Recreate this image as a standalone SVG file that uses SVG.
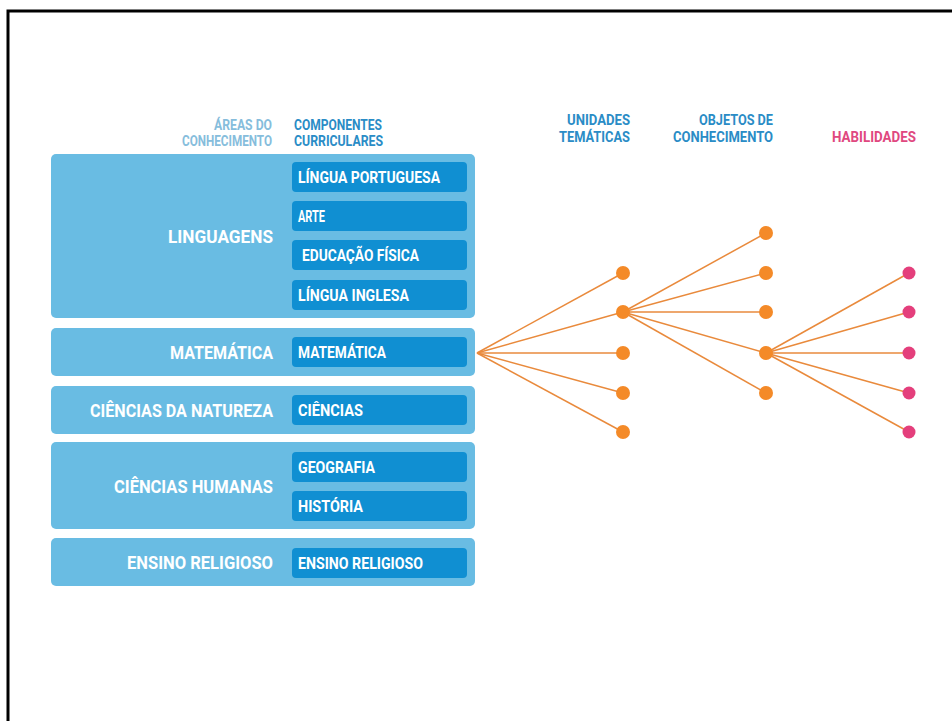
<svg xmlns="http://www.w3.org/2000/svg" width="952" height="721" viewBox="0 0 952 721">
<style>
.outer{fill:#69bce3}
.inner{fill:#108fd2}
.t{font-family:Roboto,"Liberation Sans",sans-serif;font-weight:bold;fill:#fff}
.big{font-size:19px}
.small{font-size:16px}
.hd{font-family:Roboto,"Liberation Sans",sans-serif;font-weight:bold;font-size:14px}
.lt{fill:#86bddc}
.dk{fill:#2a8cc6}
.pk{fill:#e04880}
.ln{stroke:#e98a3c;stroke-width:1.5;fill:none}
.od{fill:#f48a28}
.pd{fill:#e43f7c}
</style>
<rect x="0" y="0" width="952" height="721" fill="#fff"/>
<path d="M8 721 V11 H952" fill="none" stroke="#000" stroke-width="3"/>

<g id="headers">
<text class="hd lt" x="272" y="130" text-anchor="end" textLength="58" lengthAdjust="spacingAndGlyphs">ÁREAS DO</text>
<text class="hd lt" x="272" y="146" text-anchor="end" textLength="90" lengthAdjust="spacingAndGlyphs">CONHECIMENTO</text>
<text class="hd dk" x="294" y="130" textLength="88" lengthAdjust="spacingAndGlyphs">COMPONENTES</text>
<text class="hd dk" x="294" y="146" textLength="89" lengthAdjust="spacingAndGlyphs">CURRICULARES</text>
<text class="hd dk" x="630" y="125" text-anchor="end" textLength="63" lengthAdjust="spacingAndGlyphs">UNIDADES</text>
<text class="hd dk" x="630" y="142" text-anchor="end" textLength="71" lengthAdjust="spacingAndGlyphs">TEMÁTICAS</text>
<text class="hd dk" x="773" y="125" text-anchor="end" textLength="74" lengthAdjust="spacingAndGlyphs">OBJETOS DE</text>
<text class="hd dk" x="773" y="142" text-anchor="end" textLength="100" lengthAdjust="spacingAndGlyphs">CONHECIMENTO</text>
<text class="hd pk" x="916" y="142" text-anchor="end" textLength="84" lengthAdjust="spacingAndGlyphs">HABILIDADES</text>
</g>

<g id="linguagens">
<rect class="outer" x="51" y="154" width="424" height="164" rx="5"/>
<text class="t big" x="273" y="243" text-anchor="end" textLength="105" lengthAdjust="spacingAndGlyphs">LINGUAGENS</text>
</g>
<g id="lingua-portuguesa">
<rect class="inner" x="292" y="162" width="175" height="30" rx="4"/>
<text class="t small" x="298" y="183" textLength="142" lengthAdjust="spacingAndGlyphs">LÍNGUA PORTUGUESA</text>
</g>
<g id="arte">
<rect class="inner" x="292" y="201" width="175" height="30" rx="4"/>
<text class="t small" x="298" y="222" textLength="27" lengthAdjust="spacingAndGlyphs">ARTE</text>
</g>
<g id="educacao-fisica">
<rect class="inner" x="292" y="240" width="175" height="30" rx="4"/>
<text class="t small" x="302" y="261" textLength="117" lengthAdjust="spacingAndGlyphs">EDUCAÇÃO FÍSICA</text>
</g>
<g id="lingua-inglesa">
<rect class="inner" x="292" y="280" width="175" height="30" rx="4"/>
<text class="t small" x="298" y="301" textLength="111" lengthAdjust="spacingAndGlyphs">LÍNGUA INGLESA</text>
</g>

<g id="matematica-area">
<rect class="outer" x="51" y="328" width="424" height="48" rx="5"/>
<text class="t big" x="273" y="359" text-anchor="end" textLength="103" lengthAdjust="spacingAndGlyphs">MATEMÁTICA</text>
</g>
<g id="matematica">
<rect class="inner" x="292" y="337" width="175" height="30" rx="4"/>
<text class="t small" x="298" y="358" textLength="88" lengthAdjust="spacingAndGlyphs">MATEMÁTICA</text>
</g>

<g id="ciencias-natureza">
<rect class="outer" x="51" y="386" width="424" height="48" rx="5"/>
<text class="t" style="font-size:17.5px" x="273" y="417" text-anchor="end" textLength="183" lengthAdjust="spacingAndGlyphs">CIÊNCIAS DA NATUREZA</text>
</g>
<g id="ciencias">
<rect class="inner" x="292" y="395" width="175" height="30" rx="4"/>
<text class="t small" x="298" y="416" textLength="65" lengthAdjust="spacingAndGlyphs">CIÊNCIAS</text>
</g>

<g id="ciencias-humanas">
<rect class="outer" x="51" y="442" width="424" height="87" rx="5"/>
<text class="t big" x="273" y="493" text-anchor="end" textLength="159" lengthAdjust="spacingAndGlyphs">CIÊNCIAS HUMANAS</text>
</g>
<g id="geografia">
<rect class="inner" x="292" y="452" width="175" height="30" rx="4"/>
<text class="t small" x="298" y="473" textLength="77" lengthAdjust="spacingAndGlyphs">GEOGRAFIA</text>
</g>
<g id="historia">
<rect class="inner" x="292" y="491" width="175" height="30" rx="4"/>
<text class="t small" x="298" y="512" textLength="65" lengthAdjust="spacingAndGlyphs">HISTÓRIA</text>
</g>

<g id="ensino-religioso-area">
<rect class="outer" x="51" y="538" width="424" height="48" rx="5"/>
<text class="t big" x="273" y="569" text-anchor="end" textLength="146" lengthAdjust="spacingAndGlyphs">ENSINO RELIGIOSO</text>
</g>
<g id="ensino-religioso">
<rect class="inner" x="292" y="548" width="175" height="30" rx="4"/>
<text class="t small" x="298" y="569" textLength="125" lengthAdjust="spacingAndGlyphs">ENSINO RELIGIOSO</text>
</g>

<g id="connectors" class="ln">
<line x1="477" y1="353" x2="623" y2="273"/>
<line x1="477" y1="353" x2="623" y2="312"/>
<line x1="477" y1="353" x2="623" y2="353"/>
<line x1="477" y1="353" x2="623" y2="393"/>
<line x1="477" y1="353" x2="623" y2="432"/>
<line x1="623" y1="312" x2="766" y2="233"/>
<line x1="623" y1="312" x2="766" y2="273"/>
<line x1="623" y1="312" x2="766" y2="312"/>
<line x1="623" y1="312" x2="766" y2="353"/>
<line x1="623" y1="312" x2="766" y2="393"/>
<line x1="766" y1="353" x2="909" y2="273"/>
<line x1="766" y1="353" x2="909" y2="312"/>
<line x1="766" y1="353" x2="909" y2="353"/>
<line x1="766" y1="353" x2="909" y2="393"/>
<line x1="766" y1="353" x2="909" y2="432"/>
</g>

<g id="unidades-tematicas">
<circle class="od" cx="623" cy="273" r="7"/>
<circle class="od" cx="623" cy="312" r="7"/>
<circle class="od" cx="623" cy="353" r="7"/>
<circle class="od" cx="623" cy="393" r="7"/>
<circle class="od" cx="623" cy="432" r="7"/>
</g>
<g id="objetos-conhecimento">
<circle class="od" cx="766" cy="233" r="7"/>
<circle class="od" cx="766" cy="273" r="7"/>
<circle class="od" cx="766" cy="312" r="7"/>
<circle class="od" cx="766" cy="353" r="7"/>
<circle class="od" cx="766" cy="393" r="7"/>
</g>
<g id="habilidades">
<circle class="pd" cx="909" cy="273" r="6.5"/>
<circle class="pd" cx="909" cy="312" r="6.5"/>
<circle class="pd" cx="909" cy="353" r="6.5"/>
<circle class="pd" cx="909" cy="393" r="6.5"/>
<circle class="pd" cx="909" cy="432" r="6.5"/>
</g>
</svg>
